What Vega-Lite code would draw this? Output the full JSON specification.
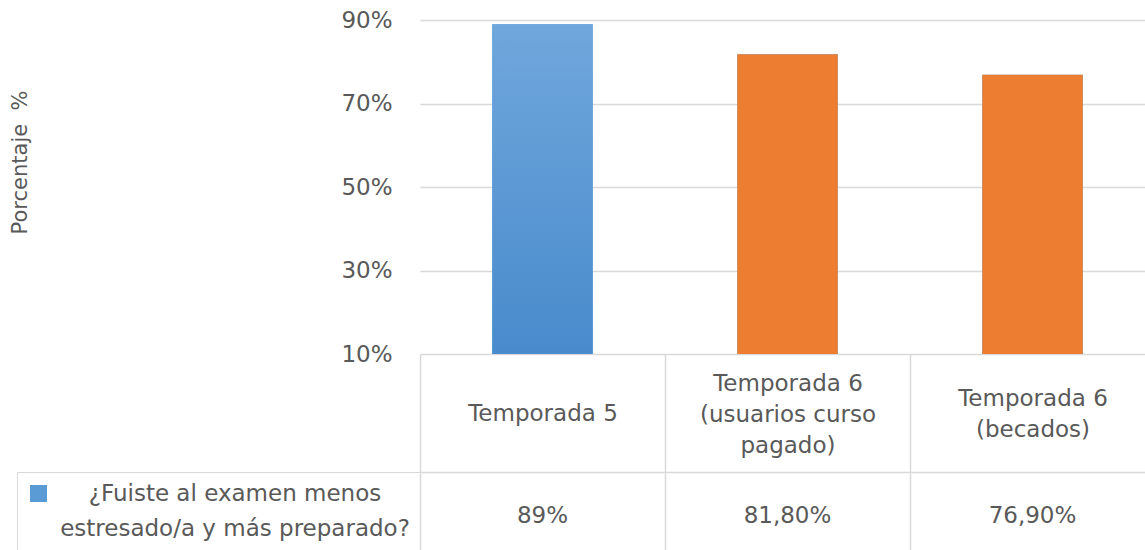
{
  "$schema": "https://vega.github.io/schema/vega-lite/v6.json",
  "width": 735,
  "height": 334,
  "autosize": {"type": "none"},
  "padding": {"left": 420, "top": 20, "right": -10, "bottom": 196},
  "background": "white",
  "config": {
    "view": {"stroke": null},
    "font": "DejaVu Sans",
    "axis": {"labelColor": "#595959", "titleColor": "#595959"},
    "style": {"guide-label": {"lineHeight": 35}}
  },
  "data": {
    "values": [
      {"categoria": "Temporada 5", "valor": 89, "etiqueta": "89%", "serie": "¿Fuiste al examen menos estresado/a y más preparado?"},
      {"categoria": "Temporada 6 (usuarios curso pagado)", "valor": 81.8, "etiqueta": "81,80%", "serie": "¿Fuiste al examen menos estresado/a y más preparado?"},
      {"categoria": "Temporada 6 (becados)", "valor": 76.9, "etiqueta": "76,90%", "serie": "¿Fuiste al examen menos estresado/a y más preparado?"}
    ]
  },
  "encoding": {
    "y": {
      "field": "valor",
      "type": "quantitative",
      "scale": {"domain": [10, 90], "zero": false, "nice": false},
      "axis": {
        "values": [10, 30, 50, 70, 90],
        "labelExpr": "datum.value + '%'",
        "domain": false,
        "ticks": false,
        "grid": true,
        "gridColor": "#d9d9d9",
        "gridWidth": 1.5,
        "labelFontSize": 23,
        "labelPadding": 28,
        "title": "Porcentaje \u00a0%",
        "titleFontSize": 21,
        "titleFontWeight": "normal",
        "titleX": -400,
        "titleY": 142,
        "titleAngle": 270,
        "titleAlign": "center",
        "titleBaseline": "middle"
      }
    }
  },
  "layer": [
    {
      "mark": {"type": "bar", "clip": true, "width": {"band": 0.41}},
      "encoding": {
        "x": {
          "field": "categoria",
          "type": "nominal",
          "sort": null,
          "scale": {"paddingInner": 0, "paddingOuter": 0},
          "axis": {
            "orient": "bottom",
            "title": null,
            "domain": false,
            "ticks": true,
            "tickBand": "extent",
            "tickSize": 196,
            "tickColor": "#d9d9d9",
            "tickWidth": 1.5,
            "labelAngle": 0,
            "labelFontSize": 23,
            "labelPadding": {
              "condition": [
                {"test": "length(datum.label) > 30", "value": -167},
                {"test": "indexof(datum.label, '(') >= 0", "value": -152}
              ],
              "value": -137
            },
            "labelBaseline": "middle",
            "labelLineHeight": 31,
            "labelLimit": 0,
            "labelExpr": "split(replace(replace(datum.label, ' (', '|('), 'curso ', 'curso|'), '|')"
          }
        },
        "color": {
          "field": "serie",
          "type": "nominal",
          "scale": {"range": ["#5b9bd5"]},
          "legend": {
            "orient": "none",
            "legendX": -403,
            "legendY": 452,
            "title": null,
            "symbolType": "square",
            "symbolSize": 289,
            "symbolStrokeWidth": 0,
            "labelFontSize": 23,
            "labelColor": "#595959",
            "labelExpr": "[slice(datum.label, 0, 23), slice(datum.label, 24)]",
            "labelAlign": "center",
            "labelOffset": 185,
            "labelLimit": 0,
            "padding": 10,
            "strokeColor": "#d9d9d9"
          }
        }
      }
    },
    {
      "mark": {"type": "bar", "clip": true, "width": {"band": 0.41}},
      "encoding": {
        "x": {
          "field": "etiqueta",
          "type": "nominal",
          "sort": null,
          "scale": {"paddingInner": 0, "paddingOuter": 0},
          "axis": {
            "orient": "bottom",
            "offset": 118,
            "title": null,
            "domain": true,
            "domainColor": "#d9d9d9",
            "domainWidth": 1.5,
            "ticks": false,
            "labelAngle": 0,
            "labelFontSize": 23,
            "labelPadding": 43,
            "labelBaseline": "middle",
            "labelLimit": 0
          }
        },
        "color": {
          "condition": {
            "test": "datum.categoria === 'Temporada 5'",
            "value": {
              "gradient": "linear",
              "x1": 0, "y1": 0, "x2": 0, "y2": 1,
              "stops": [
                {"offset": 0, "color": "#70a7dc"},
                {"offset": 1, "color": "#4387ca"}
              ]
            }
          },
          "value": "#ed7d31"
        }
      }
    }
  ],
  "resolve": {"scale": {"x": "independent"}, "axis": {"x": "independent"}}
}
